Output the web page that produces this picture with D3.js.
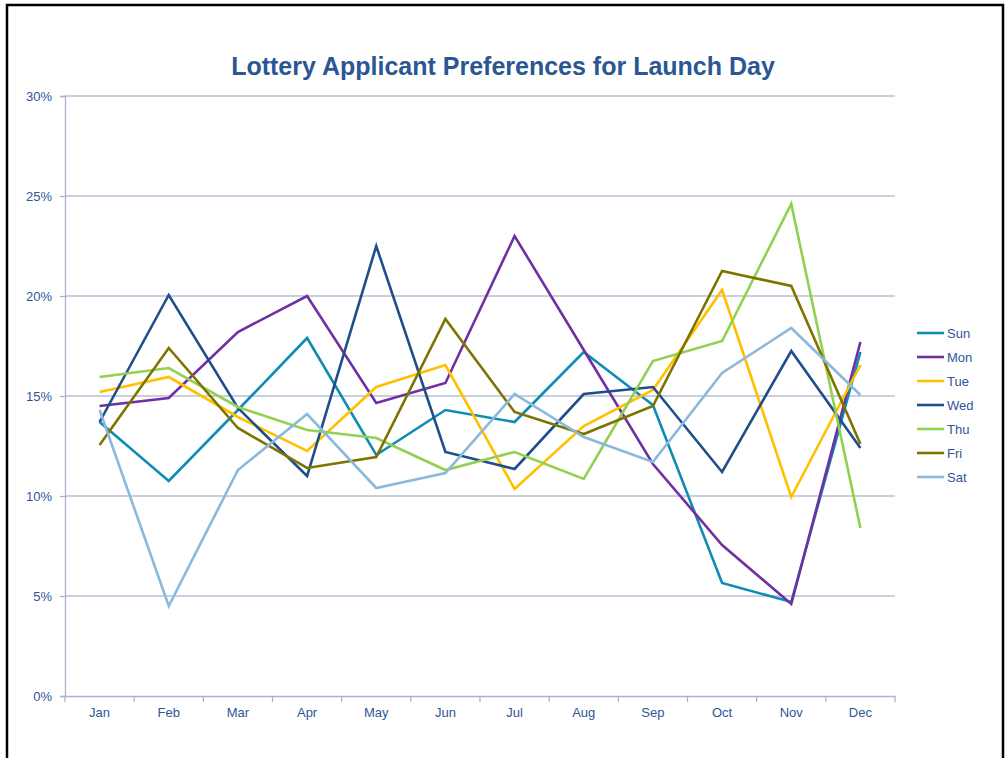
<!DOCTYPE html>
<html lang="en">
<head>
    <meta charset="utf-8">
    <script src="https://d3js.org/d3.v7.min.js"></script>
    <style type="text/css">
        body {
            margin: 0;
            background: white;
            font-family: "Liberation Sans", Arial, sans-serif;
        }
        .tick text {
            fill: #2F5597;
            font-size: 13px;
        }
    </style>
</head>
<body>
<svg id="chart"></svg>
<script type="text/javascript">
    var width = 1005;
    var height = 758;

    var months = ["Jan", "Feb", "Mar", "Apr", "May", "Jun", "Jul", "Aug", "Sep", "Oct", "Nov", "Dec"];
    var days = ["Sun", "Mon", "Tue", "Wed", "Thu", "Fri", "Sat"];
    var yTicks = [0, 5, 10, 15, 20, 25, 30];

    // percent of applicants
    var sun = [13.7, 10.75, 14.3, 17.9, 12.05, 14.3, 13.7, 17.2, 14.55, 5.65, 4.7, 17.2];
    var mon = [14.5, 14.9, 18.2, 20.0, 14.65, 15.65, 23.0, 17.3, 11.6, 7.55, 4.6, 17.7];
    var tue = [15.2, 15.95, 13.95, 12.25, 15.45, 16.55, 10.35, 13.5, 15.3, 20.3, 9.95, 16.55];
    var wed = [13.7, 20.05, 14.4, 11.0, 22.5, 12.2, 11.35, 15.1, 15.45, 11.2, 17.25, 12.4];
    var thu = [15.95, 16.4, 14.45, 13.3, 12.9, 11.3, 12.2, 10.85, 16.75, 17.75, 24.6, 8.4];
    var fri = [12.55, 17.4, 13.4, 11.4, 11.95, 18.85, 14.2, 13.1, 14.5, 21.25, 20.5, 12.6];
    var sat = [14.3, 4.5, 11.3, 14.1, 10.4, 11.15, 15.1, 12.95, 11.7, 16.15, 18.4, 15.05];

    var seriesValues = [sun, mon, tue, wed, thu, fri, sat];
    var colors = ["#0F8CB4", "#7030A0", "#FFC000", "#1F4E8A", "#92D050", "#7F7300", "#8BB9DB"];

    var margin = {left: 65, right: 110, top: 96, bottom: 62};

    var svg = d3.select("#chart")
        .attr("width", width)
        .attr("height", height);

    // frame round the chart
    svg.append("rect")
        .attr("x", 7)
        .attr("y", 5)
        .attr("width", 996)
        .attr("height", 780)
        .style("fill", "none")
        .style("stroke", "black")
        .style("stroke-width", 2.5);

    var x = d3.scaleBand()
        .domain(months)
        .range([margin.left, width - margin.right]);

    var y = d3.scaleLinear()
        .domain([0, 30])
        .range([height - margin.bottom, margin.top]);

    // gridlines
    svg.append("g")
        .selectAll("line")
        .data(yTicks.slice(1))
        .join("line")
        .attr("x1", margin.left)
        .attr("x2", width - margin.right)
        .attr("y1", function(d) { return y(d); })
        .attr("y2", function(d) { return y(d); })
        .style("stroke", "#B7BFD3")
        .style("stroke-width", 1.3);

    var yAxis = svg.append("g")
        .attr("transform", "translate(" + margin.left + ",0)")
        .call(d3.axisLeft(y)
            .tickValues(yTicks)
            .tickSize(5)
            .tickPadding(8)
            .tickFormat(function(d) { return d + "%"; }));

    var xAxis = svg.append("g")
        .attr("transform", "translate(0," + y(0) + ")")
        .call(d3.axisBottom(x).tickSize(0).tickPadding(12));

    // category boundary ticks on the x axis
    var edges = months.map(function(m) { return x(m); }).concat([x.range()[1]]);
    xAxis.selectAll(".edge")
        .data(edges)
        .join("line")
        .attr("class", "edge")
        .attr("x1", function(d) { return d; })
        .attr("x2", function(d) { return d; })
        .attr("y1", 0)
        .attr("y2", 6);

    svg.selectAll(".domain, .tick line, .edge")
        .style("stroke", "#A9B3CA")
        .style("stroke-width", 1.3);

    var line = d3.line()
        .x(function(d, i) { return x(months[i]) + x.bandwidth() / 2; })
        .y(function(d) { return y(d); });

    svg.append("g")
        .selectAll("path")
        .data(seriesValues)
        .join("path")
        .attr("d", line)
        .style("fill", "none")
        .style("stroke", function(d, i) { return colors[i]; })
        .style("stroke-width", 2.6)
        .style("stroke-linejoin", "miter");

    // title
    svg.append("text")
        .attr("x", 503)
        .attr("y", 75)
        .attr("text-anchor", "middle")
        .style("font-size", "25px")
        .style("font-weight", "bold")
        .style("fill", "#2A5794")
        .text("Lottery Applicant Preferences for Launch Day");

    // legend
    var legend = svg.append("g")
        .attr("transform", "translate(917,333)");

    var item = legend.selectAll("g")
        .data(days)
        .join("g")
        .attr("transform", function(d, i) { return "translate(0," + (i * 24) + ")"; });

    item.append("line")
        .attr("x1", 0)
        .attr("x2", 27)
        .style("stroke", function(d, i) { return colors[i]; })
        .style("stroke-width", 2.6);

    item.append("text")
        .attr("x", 30)
        .attr("y", 5)
        .style("font-size", "13px")
        .style("fill", "#2F5597")
        .text(function(d) { return d; });
</script>
</body>
</html>
